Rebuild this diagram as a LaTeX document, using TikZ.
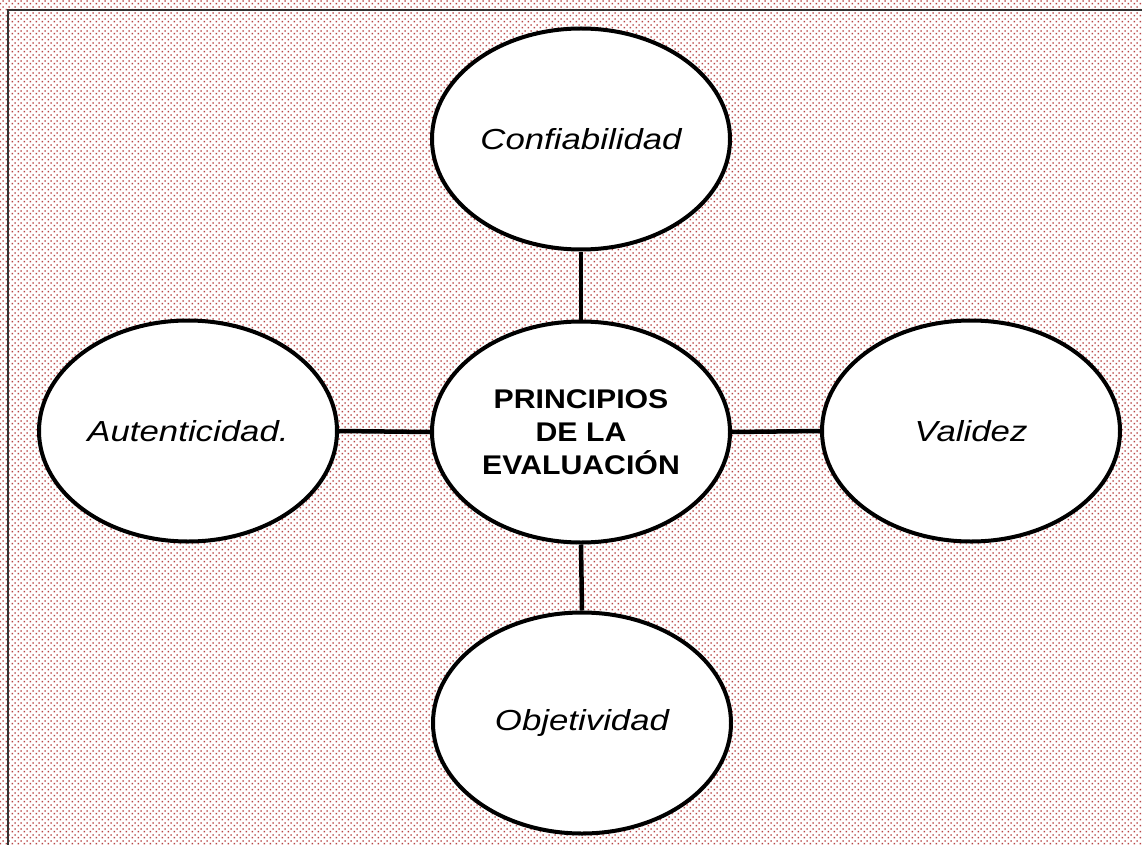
\documentclass[tikz,border=0pt]{standalone}
\usepackage{fontspec}
\setmainfont{Liberation Sans}
\usetikzlibrary{patterns.meta}
\definecolor{dotred}{RGB}{185,70,70}
\definecolor{framegray}{RGB}{50,50,50}
\tikzdeclarepattern{
  name=bgdots,
  type=uncolored,
  bounding box={(0pt,0pt) and (6pt,6pt)},
  tile size={(6pt,6pt)},
  code={
    \fill (0.8pt,0.8pt) rectangle (2.6pt,2.4pt);
    \fill (3.8pt,3.8pt) rectangle (5.6pt,5.4pt);
  }
}
\tikzset{
  bubble/.style={ellipse, draw=black, line width=4pt, fill=white,
    minimum width=298pt, minimum height=221pt, inner sep=0pt},
  itlabel/.style={font=\fontsize{29}{34}\selectfont\itshape},
  link/.style={line width=4.5pt, draw=black},
}
\usetikzlibrary{shapes.geometric}
\begin{document}
\begin{tikzpicture}[x=1pt,y=-1pt]
\useasboundingbox (0,0) rectangle (1142,845);
\fill[pattern={bgdots}, pattern color=dotred] (0,0) rectangle (1142,845);
\draw[framegray, line width=2.5pt] (8,845) -- (8,10) -- (1142,10);
\node[bubble] (top) at (581,139) {};
\node[bubble] (ctr) at (581,432) {};
\node[bubble] (lft) at (188,431) {};
\node[bubble] (rgt) at (971,431) {};
\node[bubble] (bot) at (582,723) {};
\draw[link] (top.south) -- (ctr.north);
\draw[link] (ctr.south) -- (bot.north);
\draw[link] (lft.east) -- (ctr.west);
\draw[link] (ctr.east) -- (rgt.west);
\node[itlabel] (tl) at (top.center) {\scalebox{1.2}[1]{Confiabilidad}};
\node[itlabel] (ll) at (lft.center) {\scalebox{1.2}[1]{Autenticidad.}};
\node[itlabel] (rl) at (rgt.center) {\scalebox{1.2}[1]{Validez}};
\node[itlabel] (bl) at (bot.center) {\scalebox{1.2}[1]{Objetividad}};
\node[font=\fontsize{27}{33}\selectfont\bfseries, align=center] (cl) at (ctr.center)
  {\scalebox{1.12}[1]{PRINCIPIOS}\\\scalebox{1.12}[1]{DE LA}\\\scalebox{1.12}[1]{EVALUACIÓN}};
\end{tikzpicture}
\end{document}
